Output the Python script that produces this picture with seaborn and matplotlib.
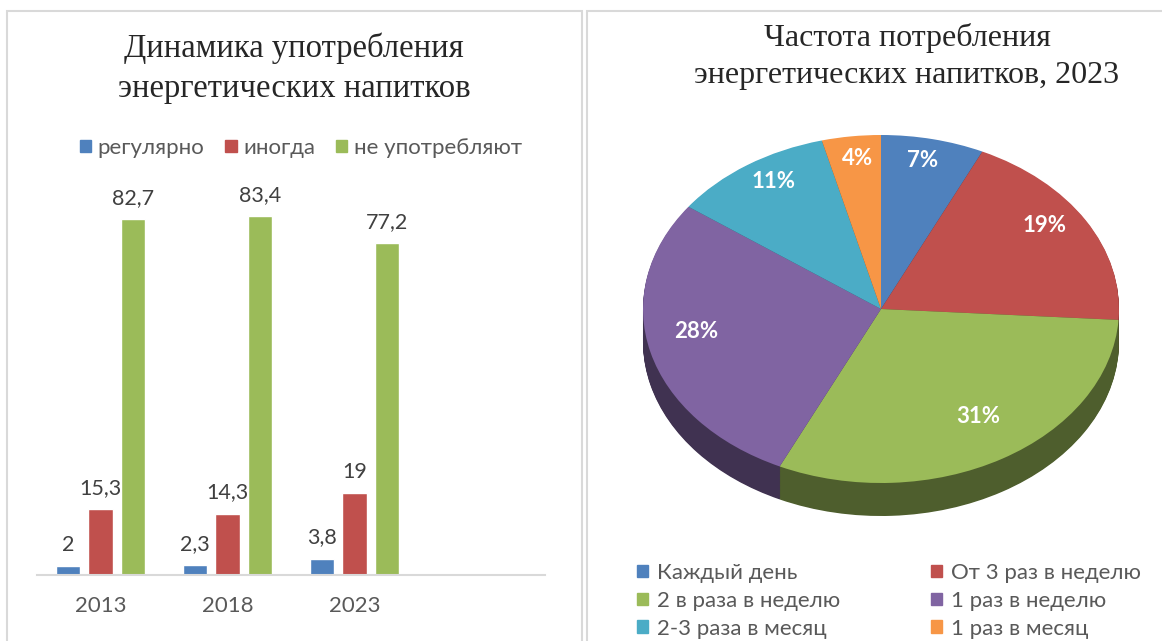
import matplotlib
matplotlib.use("Agg")
from matplotlib import pyplot as plt
from matplotlib.patches import Patch, Rectangle
import matplotlib.colors as mcolors
import pandas as pd
import seaborn as sns
import numpy as np

# bar chart data
years = ["2013", "2018", "2023"]
groups = ["регулярно", "иногда", "не употребляют"]
regular = [2.0, 2.3, 3.8]
sometimes = [15.3, 14.3, 19.0]
never = [82.7, 83.4, 77.2]
bar_colors = ["#4F81BD", "#C0504D", "#9BBB59"]

# pie chart data
freq_labels = ["Каждый день", "От 3 раз в неделю", "2 в раза в неделю",
               "1 раз в неделю", "2-3 раза в месяц", "1 раз в месяц"]
freq_shares = [7, 19, 31, 28, 11, 4]
pie_colors = ["#4F81BD", "#C0504D", "#9BBB59", "#8064A2", "#4BACC6", "#F79646"]

sns.set_style("white")
SANS = ["Lato", "DejaVu Sans"]
SERIF = ["Liberation Serif", "DejaVu Serif"]
plt.rcParams["font.family"] = SANS

W, H = 1162, 641


def box(x0, y0, x1, y1):
    """pixel box -> figure fraction rect"""
    return [x0 / W, 1 - y1 / H, (x1 - x0) / W, (y1 - y0) / H]


def comma(v):
    return f"{v:g}".replace(".", ",")


fig = plt.figure(figsize=(W / 100, H / 100), dpi=100)

# panel frames
for x0, x1 in [(7, 582), (587, 1170)]:
    fig.patches.append(Rectangle((x0 / W, -0.02), (x1 - x0) / W, 1 - 11 / H + 0.02,
                                 transform=fig.transFigure, fill=False,
                                 edgecolor="#D9D9D9", lw=1.5))

# ---- left: bars ----
df = pd.DataFrame({
    "year": years * 3,
    "group": np.repeat(groups, len(years)),
    "value": regular + sometimes + never,
})

ax = fig.add_axes(box(37, 188, 545, 575))
sns.barplot(data=df, x="year", y="value", hue="group", hue_order=groups,
            palette=bar_colors, saturation=1, width=0.76, gap=0.25,
            legend=False, ax=ax)
for c in ax.containers:
    ax.bar_label(c, labels=[comma(v) for v in c.datavalues], padding=8,
                 fontsize=15.5, color="#404040")
ax.set_xlim(-0.5, 3.5)
ax.set_ylim(0, 90)
ax.set_yticks([])
ax.set_xlabel(None)
ax.set_ylabel(None)
for s in ["top", "left", "right"]:
    ax.spines[s].set_visible(False)
ax.spines["bottom"].set_color("#D9D9D9")
ax.spines["bottom"].set_linewidth(1.5)
ax.tick_params(axis="x", length=0, labelsize=16, colors="#595959", pad=15)

fig.text(294 / W, 1 - 68 / H, "Динамика употребления\nэнергетических напитков",
         ha="center", va="center", fontsize=23.5, family=SERIF, linespacing=1.42)

handles = [Patch(color=c) for c in bar_colors]
fig.legend(handles, groups, loc="center", bbox_to_anchor=(301 / W, 1 - 148 / H),
           ncol=3, frameon=False, handlelength=0.5, handleheight=0.5,
           handletextpad=0.3, columnspacing=0.95, fontsize=16, labelcolor="#595959")

# ---- right: pseudo 3D pie ----
ax2 = fig.add_axes(box(643, 135, 1119, 520))
depth = 33 / 174
dark = [tuple(np.array(mcolors.to_rgb(c)) * 0.5) for c in pie_colors]
for k in np.linspace(depth, 0.005, 40):
    ax2.pie(freq_shares, colors=dark, startangle=90, counterclock=False,
            center=(0, -k), radius=1, wedgeprops=dict(linewidth=0))
wedges, texts, autotexts = ax2.pie(
    freq_shares, colors=pie_colors, startangle=90, counterclock=False,
    radius=1, autopct=lambda p: f"{p:.0f}%", pctdistance=0.8,
    wedgeprops=dict(linewidth=0),
    textprops=dict(color="white", fontsize=16, fontweight="bold"))
for t in autotexts:
    x, y = t.get_position()
    t.set_position((x, y + 0.07))
ax2.set_aspect("auto")
ax2.set_xlim(-1, 1)
ax2.set_ylim(1 - 385 / 174, 1)
ax2.axis("off")

fig.text(907 / W, 1 - 56.5 / H, "Частота потребления\nэнергетических напитков, 2023",
         ha="center", va="center", fontsize=23, family=SERIF, linespacing=1.34)

order = [0, 2, 4, 1, 3, 5]
fig.legend([Patch(color=pie_colors[i]) for i in order], [freq_labels[i] for i in order],
           loc="upper left", bbox_to_anchor=(637 / W, 1 - 563 / H), ncol=2,
           frameon=False, handlelength=0.5, handleheight=0.5, handletextpad=0.4,
           columnspacing=4.1, labelspacing=0.35, fontsize=16, labelcolor="#595959",
           borderpad=0, borderaxespad=0)

fig.savefig("out.png", dpi=100)
